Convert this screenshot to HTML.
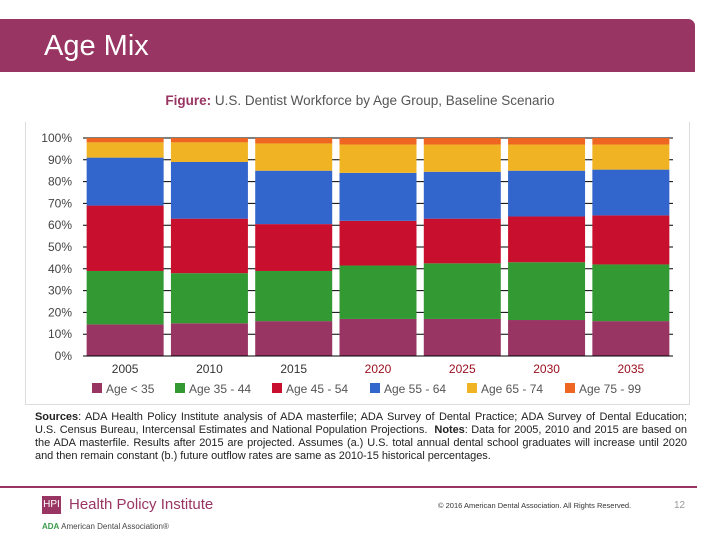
<!DOCTYPE html>
<html><head><meta charset="utf-8"><style>
body{margin:0;width:720px;height:540px;background:#fff;font-family:"Liberation Sans",sans-serif;position:relative;overflow:hidden}
.hdr{position:absolute;left:0;top:19px;width:695px;height:53px;background:#983563;border-top-right-radius:7px}
.hdr span{position:absolute;left:44px;top:11px;color:#fff;font-size:29px}
.fig{position:absolute;left:0;width:720px;top:93px;text-align:center;font-size:13.5px;color:#555}
.fig b{color:#983563}
.box{position:absolute;left:25px;top:122px;width:663px;height:282px;border:1px solid #ddd;border-top:none}
.src{position:absolute;left:35px;top:411px;width:652px;font-size:11px;letter-spacing:-0.05px;line-height:13px;color:#222;white-space:nowrap}
.src div{text-align:justify;text-align-last:justify;white-space:normal}
.src div.last{text-align-last:left}
.fl{position:absolute;left:0;top:486px;width:697px;height:2px;background:#983563}
</style></head><body>
<div class="hdr"><span>Age Mix</span></div>
<div class="fig"><b>Figure:</b> U.S. Dentist Workforce by Age Group, Baseline Scenario</div>
<div class="box"></div>
<svg id="chart" style="position:absolute;left:0;top:0" width="720" height="420"></svg>
<div class="src"><div><b>Sources</b>: ADA Health Policy Institute analysis of ADA masterfile; ADA Survey of Dental Practice; ADA Survey of Dental Education;</div><div>U.S. Census Bureau, Intercensal Estimates and National Population Projections.&nbsp; <b>Notes</b>: Data for 2005, 2010 and 2015 are based on</div><div>the ADA masterfile. Results after 2015 are projected. Assumes (a.) U.S. total annual dental school graduates will increase until 2020</div><div class="last">and then remain constant (b.) future outflow rates are same as 2010-15 historical percentages.</div></div>
<div class="fl"></div>
<div style="position:absolute;left:42px;top:496px;width:19px;height:18px;background:#983563;color:#fff;font-size:10px;line-height:18px;text-align:center">HPI</div>
<div style="position:absolute;left:69px;top:496px;color:#983563;font-size:15px">Health Policy Institute</div>
<div style="position:absolute;left:42px;top:522px;font-size:8px;color:#444"><b style="color:#3a9a4a">ADA</b> American Dental Association®</div>
<div style="position:absolute;left:438px;top:501px;font-size:7.5px;color:#333">© 2016 American Dental Association. All Rights Reserved.</div>
<div style="position:absolute;left:674px;top:500px;font-size:10px;color:#999">12</div>
<script>
const categories=["2005","2010","2015","2020","2025","2030","2035"];
const seriesNames=["Age < 35","Age 35 - 44","Age 45 - 54","Age 55 - 64","Age 65 - 74","Age 75 - 99"];
const s1=[14.5,15,16,17,17,16.5,16];
const s2=[24.5,23,23,24.5,25.5,26.5,26];
const s3=[30,25,21.5,20.5,20.5,21,22.5];
const s4=[22,26,24.5,22,21.5,21,21];
const s5=[7,9,12.5,13,12.5,12,11.5];
const s6=[2,2,2.5,3,3,3,3];
const ticks=[0,10,20,30,40,50,60,70,80,90,100];
const colors=["#983563","#339933","#c8102e","#3366cc","#f0b323","#ee6622"];
const series=[s1,s2,s3,s4,s5,s6];
const NS="http://www.w3.org/2000/svg",svg=document.getElementById("chart");
const x0=83,x1=673,yb=356,yt=138;
const y=v=>yb-(yb-yt)*v/100;
const step=(x1-x0)/categories.length,bw=77;
const bx=i=>x0+step*i+(step-bw)/2;
function mk(t,a){const e=document.createElementNS(NS,t);for(const k in a)e.setAttribute(k,a[k]);svg.appendChild(e);return e;}
ticks.forEach(t=>{
 const l=mk("line",{x1:x0,x2:x1,y1:y(t),y2:y(t),stroke:"#000","stroke-width":1});
 
 
 const tx=mk("text",{x:72,y:y(t)+4,"text-anchor":"end","font-size":12,fill:"#444"});
 tx.textContent=t+"%";
 
 
});
categories.forEach((c,i)=>{
 let cum=0;
 series.forEach((s,j)=>{
  const v=s[i];
  const r=mk("rect",{x:bx(i),width:bw,y:y(cum+v),height:y(cum)-y(cum+v),fill:colors[j]});
  
  
  cum+=v;
 });
 const tx=mk("text",{x:bx(i)+bw/2,y:373,"text-anchor":"middle","font-size":12,fill:i<3?"#333":"#9b1020"});
 tx.textContent=c;
 
 
});
const ax=mk("line",{x1:x0,x2:x1,y1:yb,y2:yb,stroke:"#000","stroke-width":1});


const lx=[92,175,272,370,467,565];
seriesNames.forEach((n,j)=>{
 const r=mk("rect",{x:lx[j],y:383,width:10,height:10,fill:colors[j]});
 
 
 const t=mk("text",{x:lx[j]+14,y:393,"font-size":12,fill:"#555"});
 t.textContent=n;
 
 
});
</script>
</body></html>
